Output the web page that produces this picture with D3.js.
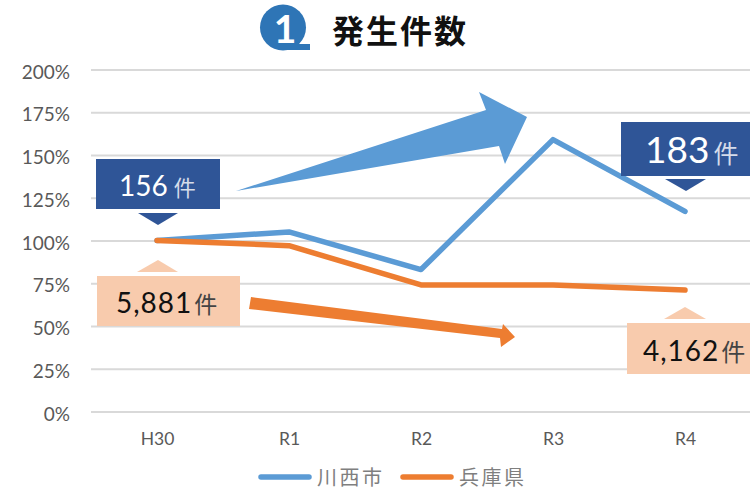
<!DOCTYPE html>
<html>
<head>
<meta charset="utf-8">
<script src="https://cdn.jsdelivr.net/npm/d3@7"></script>
<style>
    html, body { margin: 0; padding: 0; background: #fff; }
    svg { display: block; }
    text { font-family: "Noto Sans CJK JP", sans-serif; }
    .latin { font-family: Lato, "Noto Sans", sans-serif; }
</style>
</head>
<body>
<svg id="chart" width="750" height="491"></svg>
<script>
//////////////////// DATA ////////////////////
const categories = ["H30", "R1", "R2", "R3", "R4"];
const kawanishi = [100, 105, 83, 159, 117];
const hyogo = [100, 97, 74, 74, 71];
const yTicks = [0, 25, 50, 75, 100, 125, 150, 175, 200];
const seriesNames = ["川西市", "兵庫県"];
const titleText = "発生件数";

//////////////////// SCALES ////////////////////
const svg = d3.select("#chart");
const blue = "#5b9bd5", orange = "#ed7d31", navy = "#2f5597", peach = "#f8cbad";

const scaleX = d3.scalePoint().domain(categories).range([157, 685]);
const scaleY = d3.scaleLinear().domain([0, 200]).range([411.5, 69.5]);

//////////////////// GRID + AXES ////////////////////
const yAxis = d3.axisLeft(scaleY).tickValues(yTicks).tickSize(-659).tickFormat(d => d + "%");
const yGroup = svg.append("g").attr("transform", "translate(91,0)").call(yAxis);
yGroup.select(".domain").remove();
yGroup.selectAll("line").attr("stroke", "#d9d9d9").attr("stroke-width", 2);
yGroup.selectAll("text").attr("class", "latin").attr("x", -21).attr("dy", "0.45em").attr("font-size", 19).attr("fill", "#595959");

const xAxis = d3.axisBottom(scaleX).tickSize(0);
const xGroup = svg.append("g").attr("transform", "translate(0,412)").call(xAxis);
xGroup.select(".domain").remove();
xGroup.selectAll("text").attr("class", "latin").attr("y", 21).attr("font-size", 17.5).attr("fill", "#595959");

//////////////////// LINES ////////////////////
const line = d3.line().x((d, i) => scaleX(categories[i])).y(d => scaleY(d));
[[kawanishi, blue], [hyogo, orange]].forEach(([values, colour]) => {
    svg.append("path")
        .attr("d", line(values))
        .attr("fill", "none")
        .attr("stroke", colour)
        .attr("stroke-width", 5.5)
        .attr("stroke-linecap", "round")
        .attr("stroke-linejoin", "round");
});

//////////////////// TITLE ////////////////////
svg.append("circle").attr("cx", 283).attr("cy", 27.5).attr("r", 23).attr("fill", "#2e75b6");
svg.append("rect").attr("x", 283).attr("y", 44).attr("width", 27).attr("height", 6).attr("fill", "#2e75b6");
svg.append("text").attr("class", "latin").attr("x", 285).attr("y", 43)
    .attr("text-anchor", "middle").attr("font-size", 39).attr("font-weight", 700).attr("fill", "#fff").text("1");
svg.append("text").attr("x", 332).attr("y", 43).attr("font-size", 32).attr("font-weight", 700)
    .attr("letter-spacing", 2).attr("fill", "#111").text(titleText);

//////////////////// ARROWS ////////////////////
svg.append("polygon").attr("points", "236,191 486,110 479,92 527,117 505,164 499,146").attr("fill", blue);
svg.append("polygon").attr("points", "251,297 249,309 500,338 501,347 515,337 503,324 502,329").attr("fill", orange);

//////////////////// CALLOUTS ////////////////////
function callout(box, tip, colour, number, numSize, spacing, numColour, unitColour, textX, textY, unitSize, unitGap) {
    svg.append("rect").attr("x", box[0]).attr("y", box[1]).attr("width", box[2]).attr("height", box[3]).attr("fill", colour);
    svg.append("polygon").attr("points", tip).attr("fill", colour);
    const label = svg.append("text").attr("x", textX).attr("y", textY).attr("fill", numColour);
    label.append("tspan").attr("class", "latin").attr("font-size", numSize).attr("letter-spacing", spacing).text(number);
    label.append("tspan").attr("dx", unitGap).attr("font-size", unitSize).attr("fill", unitColour).text("件");
}

const tipX0 = scaleX("H30"), tipX4 = scaleX("R4");
callout([96, 159, 124, 50], `${tipX0 - 19},213 ${tipX0 + 21},213 ${tipX0 + 1},225`, navy, "156", 28, 0, "#fff", "#d5dcea", 119, 196, 22, 6);
callout([97, 276, 143, 50], `${tipX0 - 20},272 ${tipX0 + 21},272 ${tipX0 + 1},260`, peach, "5,881", 28, 1, "#111", "#444", 116, 313, 23, 2);
callout([621, 122, 129, 54], `${tipX4 - 20},179 ${tipX4 + 21},179 ${tipX4 + 1},191`, navy, "183", 37, 0, "#fff", "#d5dcea", 645, 163, 25, 4);
callout([627, 323, 123, 51], `${tipX4 - 21},319 ${tipX4 + 21},319 ${tipX4 + 0},307`, peach, "4,162", 28, 1, "#111", "#444", 643, 361, 24, 2);

//////////////////// LEGEND ////////////////////
[[258, 0, blue], [400, 1, orange]].forEach(([lx, i, colour]) => {
    svg.append("line").attr("x1", lx + 3).attr("x2", lx + 51).attr("y1", 477).attr("y2", 477)
        .attr("stroke", colour).attr("stroke-width", 5.5).attr("stroke-linecap", "round");
    svg.append("text").attr("x", lx + 59).attr("y", 485).attr("font-size", 20).attr("fill", "#7f7f7f")
        .attr("letter-spacing", 2.5).text(seriesNames[i]);
});
</script>
</body>
</html>
